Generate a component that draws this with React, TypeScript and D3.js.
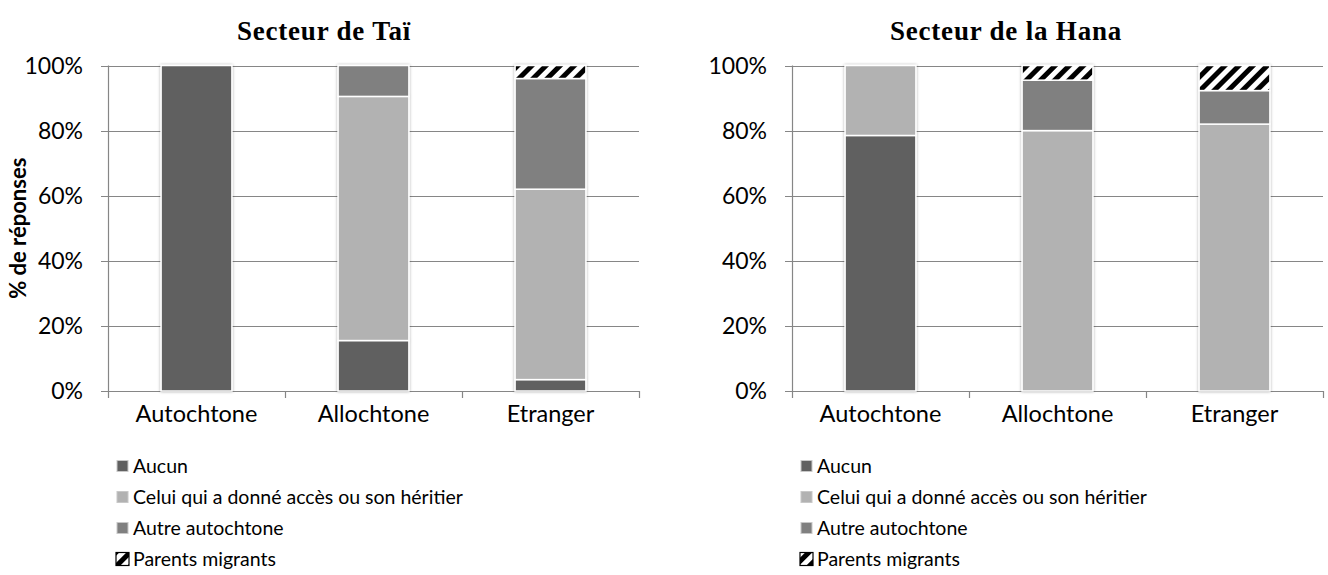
import React from "react";
import * as d3 from "d3";

const categories = ["Autochtone", "Allochtone", "Etranger"];
const seriesNames = [
  "Aucun",
  "Celui qui a donné accès ou son héritier",
  "Autre autochtone",
  "Parents migrants",
];
const yTicks = [0, 20, 40, 60, 80, 100];

// Secteur de Taï
const taiAucun = [100, 15.5, 3.5];
const taiCelui = [0, 75, 58.5];
const taiAutre = [0, 9.5, 34];
const taiParents = [0, 0, 4];

// Secteur de la Hana
const hanaAucun = [78.5, 0, 0];
const hanaCelui = [21.5, 80, 82];
const hanaAutre = [0, 15.5, 10.3];
const hanaParents = [0, 4.5, 7.7];

const seriesKeys = ["aucun", "celui", "autre", "parents"];
const seriesFills = ["#606060", "#b2b2b2", "#808080", "url(#hatch)"];

const W = 1328;
const H = 575;
const SANS = "Lato, 'Open Sans', sans-serif";
const SERIF = "'Liberation Serif', 'DejaVu Serif', serif";

function buildRows(a: number[], c: number[], o: number[], p: number[]) {
  return categories.map((cat, i) => ({
    cat,
    aucun: a[i],
    celui: c[i],
    autre: o[i],
    parents: p[i],
  }));
}

type PanelProps = {
  title: string;
  rows: any[];
  chartLeft: number;
  chartRight: number;
  plotLeft: number;
  plotRight: number;
  showYTitle: boolean;
};

function Panel({ title, rows, chartLeft, chartRight, plotLeft, plotRight, showYTitle }: PanelProps) {
  const top = 65.5;
  const bottom = 391;
  const x = d3.scaleBand<string>().domain(categories).range([plotLeft, plotRight]).paddingInner(0.6).paddingOuter(0.3);
  const band = d3.scaleBand<string>().domain(categories).range([plotLeft, plotRight]);
  const y = d3.scaleLinear().domain([0, 100]).range([bottom, top]);
  const stacked = d3.stack<any>().keys(seriesKeys)(rows);
  const grid = "#868686";
  const legendX = plotLeft + 9;
  const legendY0 = 466;
  const legendStep = 31;
  return (
    <g>
      <text
        x={(chartLeft + chartRight) / 2}
        y={40}
        textAnchor="middle"
        fontFamily={SERIF}
        fontWeight="bold"
        fontSize={27}
        letterSpacing={0.8}
        fill="#000"
      >
        {title}
      </text>
      {yTicks.map((t) => (
        <g key={t}>
          <line x1={plotLeft - 7} x2={plotRight} y1={Math.round(y(t)) + 0.5} y2={Math.round(y(t)) + 0.5} stroke={grid} strokeWidth={1.2} />
          <text x={plotLeft - 25} y={y(t)} dy="0.35em" textAnchor="end" fontFamily={SANS} fontSize={23} fill="#000">
            {t + "%"}
          </text>
        </g>
      ))}
      <line x1={plotLeft + 0.5} x2={plotLeft + 0.5} y1={top} y2={bottom} stroke={grid} strokeWidth={1.2} />
      {categories.map((c) => (
        <line
          key={"tk" + c}
          x1={Math.round((band(c) as number) + band.bandwidth()) + 0.5}
          x2={Math.round((band(c) as number) + band.bandwidth()) + 0.5}
          y1={bottom}
          y2={bottom + 7}
          stroke={grid}
          strokeWidth={1.2}
        />
      ))}
      <line x1={plotLeft + 0.5} x2={plotLeft + 0.5} y1={bottom} y2={bottom + 7} stroke={grid} strokeWidth={1.2} />
      {categories.map((c) => (
        <text
          key={"xl" + c}
          x={(band(c) as number) + band.bandwidth() / 2}
          y={422}
          textAnchor="middle"
          fontFamily={SANS}
          fontSize={23.5}
          fill="#000"
        >
          {c}
        </text>
      ))}
      <g filter="url(#barShadow)">
        {stacked.map((s, si) =>
          s.map((d: any, i: number) => {
            const h = y(d[0]) - y(d[1]);
            if (h <= 0.01) return null;
            return (
              <rect
                key={si + "-" + i}
                x={x(categories[i]) as number}
                y={y(d[1])}
                width={x.bandwidth()}
                height={h}
                fill={seriesFills[si]}
                stroke="#fff"
                strokeWidth={1.5}
              />
            );
          })
        )}
      </g>
      {showYTitle && (
        <text
          transform={`translate(26, ${(top + bottom) / 2}) rotate(-90)`}
          textAnchor="middle"
          fontFamily={SANS}
          fontWeight="bold"
          fontSize={22}
          fill="#000"
        >
          % de réponses
        </text>
      )}
      {seriesNames.map((name, i) => {
        const cy = legendY0 + i * legendStep;
        const isHatch = i === 3;
        const s = isHatch ? 13 : 11;
        return (
          <g key={"lg" + i}>
            <rect
              x={legendX + (isHatch ? -1 : 0)}
              y={cy - s / 2}
              width={s}
              height={s}
              fill={seriesFills[i]}
              stroke={isHatch ? "#000" : "#c8c8c8"}
              strokeWidth={isHatch ? 1.2 : 1}
            />
            <text x={legendX + 16} y={cy} dy="0.35em" fontFamily={SANS} fontSize={19.5} fill="#000">
              {name}
            </text>
          </g>
        );
      })}
    </g>
  );
}

export default function App() {
  const taiRows = buildRows(taiAucun, taiCelui, taiAutre, taiParents);
  const hanaRows = buildRows(hanaAucun, hanaCelui, hanaAutre, hanaParents);
  return (
    <svg width={W} height={H} style={{ position: "absolute", left: 0, top: 0, background: "#fff" }}>
      <defs>
        <pattern id="hatch" patternUnits="userSpaceOnUse" width={10} height={10} patternTransform="rotate(45)">
          <rect x={0} y={0} width={10} height={10} fill="#fff" />
          <rect x={0} y={0} width={5} height={10} fill="#000" />
        </pattern>
        <filter id="barShadow" x="-20%" y="-5%" width="140%" height="110%">
          <feGaussianBlur in="SourceAlpha" stdDeviation={1.6} result="blur" />
          <feComponentTransfer in="blur" result="soft">
            <feFuncA type="linear" slope={0.35} />
          </feComponentTransfer>
          <feMerge>
            <feMergeNode in="soft" />
            <feMergeNode in="SourceGraphic" />
          </feMerge>
        </filter>
      </defs>
      <rect x={0} y={0} width={W} height={H} fill="#fff" />
      <Panel title="Secteur de Taï" rows={taiRows} chartLeft={0} chartRight={648} plotLeft={108} plotRight={639} showYTitle={true} />
      <Panel title="Secteur de la Hana" rows={hanaRows} chartLeft={684} chartRight={1328} plotLeft={792} plotRight={1323} showYTitle={false} />
    </svg>
  );
}
